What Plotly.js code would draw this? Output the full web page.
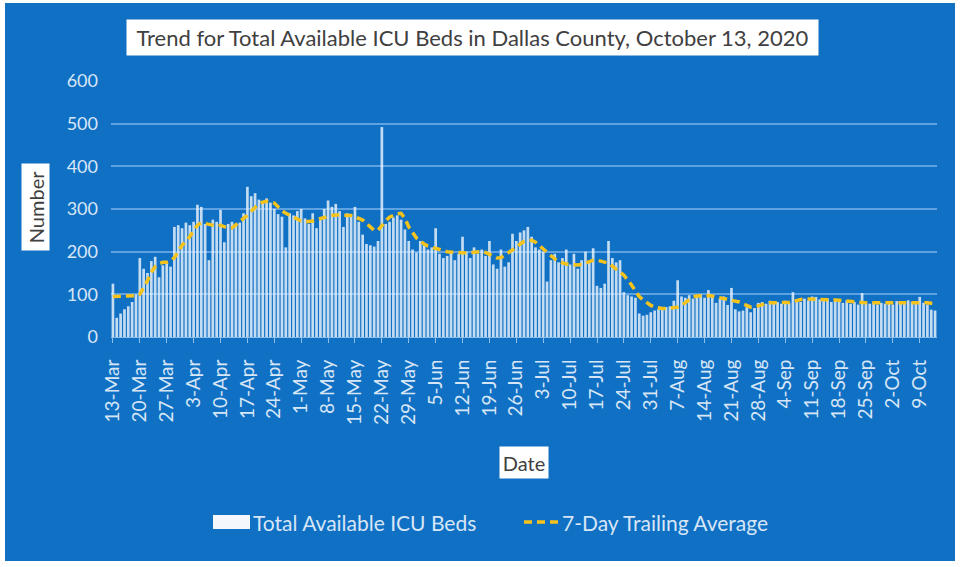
<!DOCTYPE html>
<html>
<head>
<meta charset="utf-8">
<script src="https://cdn.plot.ly/plotly-3.0.1.min.js"></script>
<style>
  html, body { margin: 0; padding: 0; background: #ffffff; width: 961px; height: 567px; overflow: hidden; }
  #chart { position: absolute; left: 5px; top: 3px; width: 950px; height: 558px; }
</style>
</head>
<body>
<div id="chart"></div>
<script>
// ---- Data ----
const year = 2020;
const monthNumbers = [3, 4, 5, 6, 7, 8, 9, 10];
const firstDay = [13, 1, 1, 1, 1, 1, 1, 1];

// Total Available ICU Beds (daily)
const bedsMar = [125,45,55,65,72,82,100,185,160,150,178,188,140,168,172,165,258,262,255];
const bedsApr = [268,262,270,310,305,265,180,275,270,298,222,265,270,262,268,290,352,330,337,322,318,325,315,300,288,282,210,290,285,295];
const bedsMay = [300,278,265,290,255,280,300,320,305,312,295,258,290,285,305,270,240,218,215,212,225,492,265,270,280,285,275,252,225,205,198];
const bedsJun = [225,215,205,210,255,195,185,190,200,180,195,235,200,185,210,195,205,190,225,170,160,205,165,175,242,225,245,250,258,235];
const bedsJul = [210,205,200,130,180,195,175,185,205,170,195,160,180,200,178,208,120,115,125,225,185,175,180,105,98,95,92,55,50,52,58];
const bedsAug = [62,65,68,70,72,85,133,95,92,98,90,95,100,92,110,95,80,90,95,75,115,65,60,62,70,58,68,80,82,78,85];
const bedsSep = [80,82,78,85,80,105,88,82,90,86,95,94,88,85,90,82,88,84,80,86,78,82,76,103,80,78,82,76,80,78];
const bedsOct = [82,76,84,78,80,86,82,78,94,80,76,64,62];

// 7-Day Trailing Average (daily)
const avgMar = [95,95,95,95,95,96,97,100,115,132,152,165,172,175,175,178,186,200,215];
const avgApr = [225,235,250,262,268,266,262,260,260,262,258,255,256,262,270,278,285,295,305,312,316,318,317,314,305,296,290,285,280,275];
const avgMay = [272,270,270,272,275,278,281,283,285,286,286,286,286,285,282,278,274,266,258,250,250,262,272,281,286,289,290,278,258,245,232];
const avgJun = [226,218,213,210,207,204,202,200,199,198,197,197,197,198,199,200,200,198,194,188,185,186,192,197,204,210,218,224,227,227];
const avgJul = [222,214,206,198,190,183,177,173,171,170,169,169,170,173,177,180,180,178,176,173,166,158,152,145,135,122,108,95,87,80,74];
const avgAug = [70,68,67,67,68,68,70,74,80,87,94,96,97,97,97,96,94,92,91,90,88,86,82,78,74,70,70,72,76,80,80];
const avgSep = [80,80,80,80,81,83,86,88,89,89,89,89,88,88,88,87,87,86,85,84,82,82,81,80,80,80,80,80,80,80];
const avgOct = [80,80,80,80,81,82,82,81,80,80,80,79,78];

const titleText = "Trend for Total Available ICU Beds in Dallas County, October 13, 2020";
const yTitle = "Number";
const xTitle = "Date";
const barName = "Total Available ICU Beds";
const lineName = "7-Day Trailing Average";

// ---- Build series ----
const bedsByMonth = [bedsMar, bedsApr, bedsMay, bedsJun, bedsJul, bedsAug, bedsSep, bedsOct];
const avgByMonth = [avgMar, avgApr, avgMay, avgJun, avgJul, avgAug, avgSep, avgOct];
const dates = [], beds = [], avg = [];
function pad(n) { return (n < 10 ? "0" : "") + n; }
bedsByMonth.forEach(function (arr, m) {
  arr.forEach(function (v, i) {
    dates.push(year + "-" + pad(monthNumbers[m]) + "-" + pad(firstDay[m] + i));
    beds.push(v);
    avg.push(avgByMonth[m][i]);
  });
});

const BLUE = "#1070c4";
const LIGHT = "#d7e6f6";
const FONT = "Lato, 'Open Sans', sans-serif";
const BAR_COLOR = "rgba(236,244,253,0.82)";
const LINE_COLOR = "#f6c21c";

const traces = [
  {
    type: "bar", x: dates, y: beds, name: barName, showlegend: false,
    marker: { color: BAR_COLOR, line: { width: 0 } },
    hoverinfo: "x+y"
  },
  {
    type: "scatter", mode: "lines", x: dates, y: avg, name: lineName, showlegend: false,
    line: { color: LINE_COLOR, width: 3.5, dash: "8px,5px" },
    hoverinfo: "x+y"
  }
];

// plot area: x 111..937 (826 px), y 81..337 (256 px) in page pixels
function px(p) { return (p - 111) / 826; }
function py(p) { return (337 - p) / 256; }

const layout = {
  width: 950, height: 558,
  paper_bgcolor: BLUE, plot_bgcolor: BLUE,
  margin: { l: 106, r: 18, t: 78, b: 224 },
  bargap: 0.3,
  font: { family: FONT, color: LIGHT, size: 15 },
  showlegend: false,
  xaxis: {
    type: "date",
    range: ["2020-03-12 12:00", "2020-10-13 12:00"],
    tick0: "2020-03-13", dtick: 7 * 86400000,
    tickformat: "%-d-%b", tickangle: -90,
    tickfont: { family: FONT, size: 19, color: LIGHT },
    ticklabelstandoff: 9,
    showgrid: false, zeroline: false,
    showline: true, linecolor: "#8fbdea", linewidth: 1,
    ticks: "outside", ticklen: 5, tickcolor: "#8fbdea", tickwidth: 1
  },
  yaxis: {
    range: [0, 600], dtick: 100, tick0: 0,
    showgrid: true, gridcolor: "#5ea2e3", gridwidth: 2,
    zeroline: false, showline: false, ticks: "",
    tickfont: { family: FONT, size: 18, color: LIGHT },
    ticklabelstandoff: 12
  },
  shapes: [
    { type: "rect", xref: "paper", yref: "paper",
      x0: px(213), x1: px(250), y0: py(529), y1: py(515),
      fillcolor: "#f4f8fd", line: { width: 0 } },
    { type: "line", xref: "paper", yref: "paper",
      x0: px(524), x1: px(560), y0: py(522), y1: py(522),
      line: { color: LINE_COLOR, width: 3.5, dash: "8px,5px" } }
  ],
  annotations: [
    {
      text: titleText, xref: "paper", yref: "paper",
      x: px(472), y: py(37), xanchor: "center", yanchor: "middle", showarrow: false,
      font: { family: FONT, size: 22, color: "#404040" },
      bgcolor: "#ffffff", width: 691, height: 35, borderpad: 0
    },
    {
      text: yTitle, xref: "paper", yref: "paper",
      x: px(35), y: py(207), xanchor: "center", yanchor: "middle", showarrow: false,
      textangle: -90,
      font: { family: FONT, size: 20, color: "#404040" },
      bgcolor: "#ffffff", width: 86, height: 27, borderpad: 0
    },
    {
      text: xTitle, xref: "paper", yref: "paper",
      x: px(524), y: py(462), xanchor: "center", yanchor: "middle", showarrow: false,
      font: { family: FONT, size: 20, color: "#404040" },
      bgcolor: "#ffffff", width: 48, height: 31, borderpad: 0
    },
    {
      text: barName, xref: "paper", yref: "paper",
      x: px(251), y: py(522), xanchor: "left", yanchor: "middle", showarrow: false,
      font: { family: FONT, size: 21, color: LIGHT }
    },
    {
      text: lineName, xref: "paper", yref: "paper",
      x: px(560), y: py(522), xanchor: "left", yanchor: "middle", showarrow: false,
      font: { family: FONT, size: 21, color: LIGHT }
    }
  ]
};

Plotly.newPlot("chart", traces, layout, { displayModeBar: false, staticPlot: true });
</script>
</body>
</html>
